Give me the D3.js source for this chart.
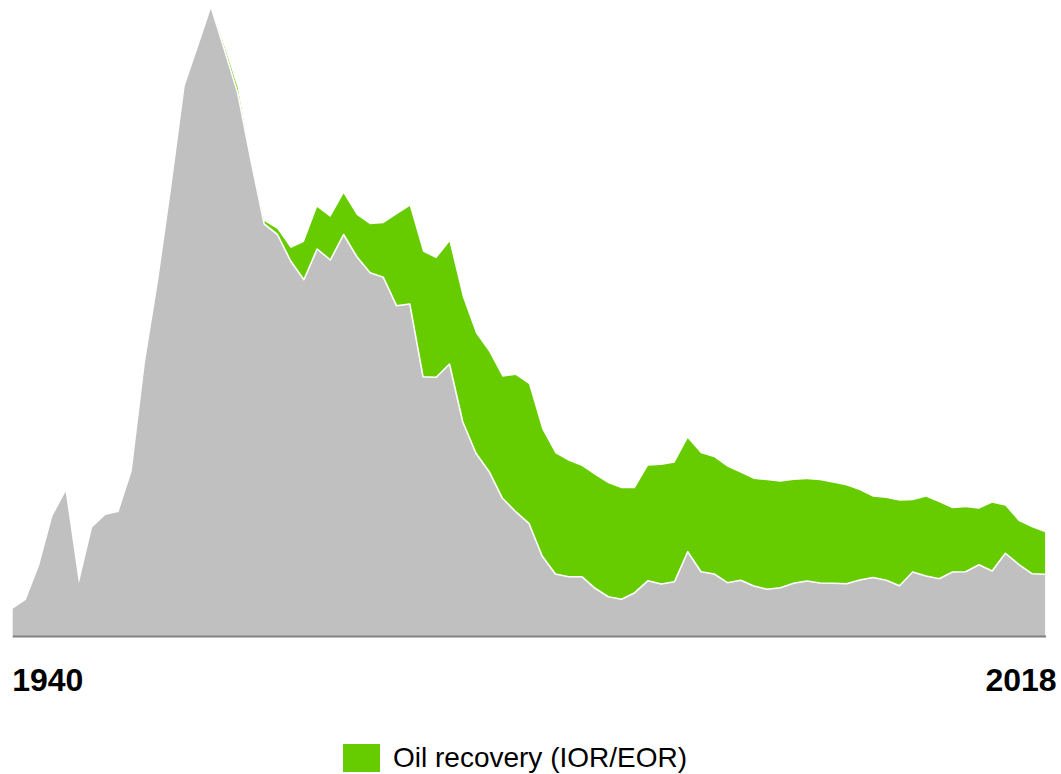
<!DOCTYPE html>
<html>
<head>
<meta charset="utf-8">
<script src="https://cdn.jsdelivr.net/npm/d3@7"></script>
<style>
  html, body { margin: 0; padding: 0; background: #fff; }
  svg { display: block; }
</style>
</head>
<body>
<svg id="chart" width="1061" height="774"></svg>
<script>
// ---- data ----
const years = d3.range(1940, 2019);
const baseValues = [
  2.72, 3.62, 7.04, 11.98, 14.44, 5.27, 10.86, 12.10, 12.40, 16.50,
  27.40, 35.60, 45.00, 55.00, 58.90, 62.86, 58.60, 54.30, 47.60, 41.20,
  40.15, 37.50, 35.63, 38.70, 37.60, 40.15, 37.93, 36.33, 35.87, 33.03,
  33.20, 25.93, 25.87, 27.20, 21.43, 18.27, 16.43, 13.77, 12.43, 11.27,
  8.00, 6.20, 5.93, 5.93, 4.77, 3.93, 3.67, 4.33, 5.53, 5.20,
  5.43, 8.43, 6.43, 6.20, 5.33, 5.57, 5.00, 4.67, 4.83, 5.27,
  5.50, 5.30, 5.27, 5.23, 5.60, 5.85, 5.57, 5.03, 6.40, 6.00,
  5.73, 6.40, 6.43, 7.13, 6.50, 8.27, 7.17, 6.23, 6.17
];
const recoveryValues = [
  0, 0, 0, 0, 0, 0, 0, 0, 0, 0,
  0, 0, 0, 0, 0, 0, 0.3, 0.5, 0, 0.3,
  0.55, 1.3, 3.77, 4.2, 4.3, 4.1, 4.17, 4.84, 5.4, 9.12,
  9.8, 12.5, 11.9, 12.23, 12.5, 12.0, 12.0, 12.16, 13.67, 13.93,
  12.7, 12.07, 11.6, 11.07, 11.33, 11.34, 11.1, 10.44, 11.5, 11.9,
  11.9, 11.34, 11.84, 11.67, 11.6, 10.76, 10.7, 10.9, 10.6, 10.33,
  10.17, 10.27, 10.06, 9.82, 8.97, 8.08, 8.23, 8.5, 7.17, 7.93,
  7.64, 6.37, 6.44, 5.6, 6.83, 4.76, 4.33, 4.64, 4.2
];
const tickLabels = [1940, 2018];
const legendLabel = "Oil recovery (IOR/EOR)";

const rows = years.map((yr, i) => ({ year: yr, base: baseValues[i], recovery: recoveryValues[i] }));

// ---- layout ----
const svg = d3.select("#chart");
const x = d3.scaleLinear().domain([1940, 2018]).range([12.7, 1045.1]);
const y = d3.scaleLinear().domain([0, 63.6]).range([636, 0]);

const stack = d3.stack().keys(["base", "recovery"]);
const series = stack(rows);
const colors = { base: "#c0c0c0", recovery: "#66cc00" };

const area = d3.area()
  .x(d => x(d.data.year))
  .y0(d => y(d[0]))
  .y1(d => y(d[1]));

svg.append("g").selectAll("path")
  .data(series)
  .join("path")
  .attr("d", area)
  .attr("fill", d => colors[d.key]);

// white separator along the base layer's top
const sepLine = d3.line()
  .x(d => x(d.data.year))
  .y(d => y(d[1]));
svg.append("path")
  .datum(series[0].filter(d => d.data.year >= 1955))
  .attr("d", sepLine)
  .attr("fill", "none")
  .attr("stroke", "#fff")
  .attr("stroke-width", 1.6)
  .attr("stroke-linejoin", "round");

// baseline
svg.append("line")
  .attr("x1", x(1940)).attr("x2", x(2018) + 1)
  .attr("y1", y(0) + 0.5).attr("y2", y(0) + 0.5)
  .attr("stroke", "#808080")
  .attr("stroke-width", 2);

// axis labels
const axis = d3.axisBottom(x).tickValues(tickLabels).tickSize(0).tickFormat(d3.format("d"));
const gAxis = svg.append("g")
  .attr("transform", `translate(0,${y(0)})`)
  .call(axis);
gAxis.select(".domain").remove();
gAxis.selectAll("text")
  .attr("font-family", "Liberation Sans, Arial, sans-serif")
  .attr("font-size", 32)
  .attr("font-weight", "bold")
  .attr("fill", "#000")
  .attr("dy", null)
  .attr("y", 55)
  .attr("text-anchor", (d, i) => i === 0 ? "start" : "end")
  .attr("dx", (d, i) => i === 0 ? -1 : 11);

// legend
const lg = svg.append("g").attr("transform", "translate(343,744)");
lg.append("rect").attr("width", 37).attr("height", 28).attr("fill", colors.recovery);
lg.append("text")
  .attr("x", 50).attr("y", 23)
  .attr("font-family", "Liberation Sans, Arial, sans-serif")
  .attr("font-size", 28)
  .attr("fill", "#000")
  .text(legendLabel);
</script>
</body>
</html>
